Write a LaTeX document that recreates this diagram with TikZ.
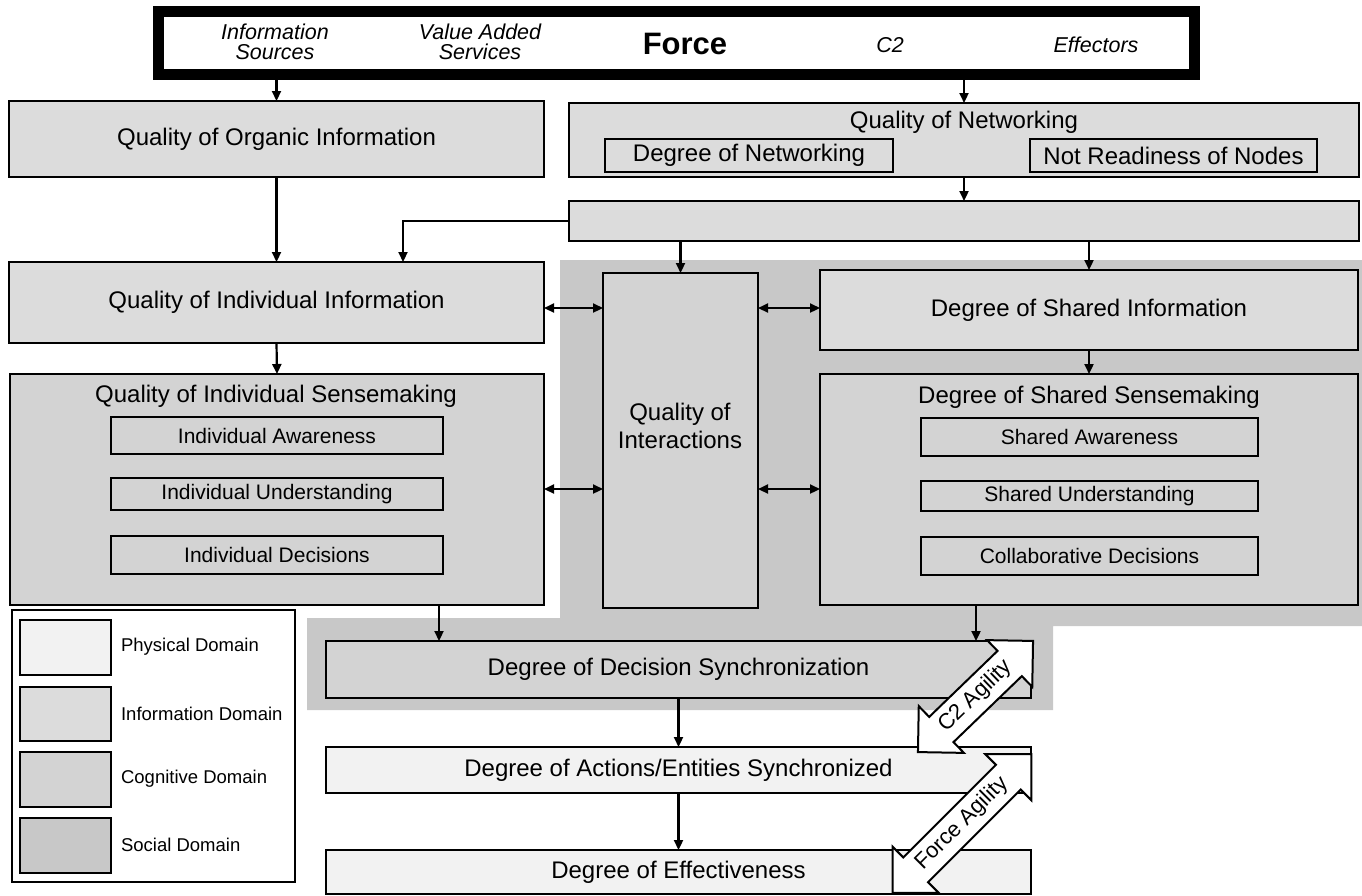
\documentclass[tikz,border=0pt]{standalone}
\usepackage{fontspec}
\setmainfont{Liberation Sans}
\usetikzlibrary{arrows.meta}
\definecolor{fisico}{HTML}{F2F2F2}
\definecolor{info}{HTML}{DCDCDC}
\definecolor{cognitivo}{HTML}{D3D3D3}
\definecolor{social}{HTML}{C8C8C8}

\begin{document}
\begin{tikzpicture}[x=1pt,y=-1pt,line width=2.2pt,>={Triangle[length=10pt,width=9pt]},
	caixa/.style={draw,inner sep=0pt,outer sep=0pt,align=center,font=\fontsize{24}{28}\selectfont},
	interna/.style={caixa,font=\fontsize{21}{24}\selectfont},
	topo/.style={align=center,inner sep=0pt,font=\fontsize{21.5}{19.5}\selectfont\itshape},
	legenda/.style={anchor=west,inner sep=0pt,font=\fontsize{18.5}{22}\selectfont},
	agil/.style={draw,fill=white,line width=2pt,line join=miter}]
	
	% Fundo e limites
	\fill[white] (0,0) rectangle (1362,895);
	\useasboundingbox (0,0) rectangle (1362,895);
	
	% Dominio social (fundo cinza)
	\fill[social] (560,260) -- (1362,260) -- (1362,626) -- (1053,626) -- (1053,710)
		-- (307,710) -- (307,618) -- (560,618) -- cycle;
	
	% Caixa da forca
	\node[draw,line width=11pt,minimum width=1036,minimum height=63,inner sep=0pt,outer sep=0pt] (FORCE) at (676.5,43) {};
	\node[topo] (IS) at (275,42) {Information\\Sources};
	\node[topo] (VAS) at (480,42) {Value Added\\Services};
	\node[inner sep=0pt,font=\fontsize{31}{34}\selectfont\bfseries] (F) at (685,44) {Force};
	\node[topo] (C2) at (890,45) {C2};
	\node[topo] (EF) at (1096,45) {Effectors};
	
	% Dominio da informacao
	\node[caixa,fill=info,minimum width=535,minimum height=76] (QOI) at (276.5,139) {Quality of Organic Information};
	\node[caixa,fill=info,minimum width=790,minimum height=74] (QON) at (964,140) {};
	\node[inner sep=0pt,font=\fontsize{24}{28}\selectfont] (QONT) at (964,122) {Quality of Networking};
	\node[caixa,fill=info,minimum width=288,minimum height=33] (DON) at (749,155.5) {Degree of Networking};
	\node[caixa,fill=info,minimum width=287,minimum height=33] (NRN) at (1173.5,155.5) {Not Readiness of Nodes};
	\node[caixa,fill=info,minimum width=790,minimum height=40] (BAR) at (964,221) {};
	\node[caixa,fill=info,minimum width=535,minimum height=81] (QII) at (276.5,302.5) {Quality of Individual Information};
	\node[caixa,fill=info,minimum width=538,minimum height=80] (DSI) at (1089,310) {Degree of Shared Information};
	
	% Dominio cognitivo
	\node[caixa,fill=cognitivo,minimum width=534,minimum height=231] (QIS) at (277,489.5) {};
	\node[inner sep=0pt,font=\fontsize{24}{28}\selectfont] (QIST) at (276,396) {Quality of Individual Sensemaking};
	\node[interna,fill=cognitivo,minimum width=332,minimum height=37] (IA) at (277,435.5) {Individual Awareness};
	\node[interna,fill=cognitivo,minimum width=332,minimum height=32] (IU) at (277,494) {Individual Understanding};
	\node[interna,fill=cognitivo,minimum width=332,minimum height=38] (ID) at (277,555) {Individual Decisions};
	\node[caixa,fill=cognitivo,minimum width=155,minimum height=335] (QOINT) at (680.5,440.5) {};
	\node[inner sep=0pt,align=center,font=\fontsize{24}{28}\selectfont] (QOINTT) at (680,426) {Quality of\\Interactions};
	\node[caixa,fill=cognitivo,minimum width=538,minimum height=231] (DSS) at (1089,489.5) {};
	\node[inner sep=0pt,font=\fontsize{24}{28}\selectfont] (DSST) at (1089,397) {Degree of Shared Sensemaking};
	\node[interna,fill=cognitivo,minimum width=337,minimum height=38] (SA) at (1089.5,437) {Shared Awareness};
	\node[interna,fill=cognitivo,minimum width=337,minimum height=30] (SU) at (1089.5,496) {Shared Understanding};
	\node[interna,fill=cognitivo,minimum width=337,minimum height=38] (CD) at (1089.5,556) {Collaborative Decisions};
	\node[caixa,fill=cognitivo,minimum width=705,minimum height=57] (DDS) at (678.5,669.5) {Degree of Decision Synchronization};
	
	% Dominio fisico
	\node[caixa,fill=fisico,minimum width=705,minimum height=46] (DAE) at (678.5,770) {Degree of Actions/Entities Synchronized};
	\node[caixa,fill=fisico,minimum width=705,minimum height=44] (DE) at (678.5,872) {Degree of Effectiveness};
	
	% Pontos auxiliares
	\coordinate (K) at (403,0);
	\coordinate (L) at (439,0);
	\coordinate (R) at (976,0);
	\coordinate (Y1) at (0,308);
	\coordinate (Y2) at (0,489);
	
	% Setas
	\draw[->] (QOI.north |- FORCE.south) -- (QOI.north);
	\draw[->] (QON.north |- FORCE.south) -- (QON.north);
	\draw[->] (QON.south) -- (BAR.north);
	\draw[->] (BAR.west) -| (K |- QII.north);
	\draw[->] (BAR.south -| QOINT.north) -- (QOINT.north);
	\draw[->] (BAR.south -| DSI.north) -- (DSI.north);
	\draw[->] (QOI.south) -- (QII.north);
	\draw[->] (QII.south) -- (QIS.north);
	\draw[->] (DSI.south) -- (DSS.north);
	\draw[->] (L |- QIS.south) -- (L |- DDS.north);
	\draw[->] (R |- DSS.south) -- (R |- DDS.north);
	\draw[->] (DDS.south) -- (DAE.north);
	\draw[->] (DAE.south) -- (DE.north);
	
	% Setas duplas das interacoes
	\draw[<->] (QII.east |- Y1) -- (QOINT.west |- Y1);
	\draw[<->] (QOINT.east |- Y1) -- (DSI.west |- Y1);
	\draw[<->] (QIS.east |- Y2) -- (QOINT.west |- Y2);
	\draw[<->] (QOINT.east |- Y2) -- (DSS.west |- Y2);
	
	% Legenda
	\node[draw,line width=2pt,minimum width=283,minimum height=272,inner sep=0pt] (LEG) at (153.5,746) {};
	\node[draw,fill=fisico,line width=2pt,minimum width=91,minimum height=55,inner sep=0pt] (S1) at (65.5,647.5) {};
	\node[draw,fill=info,line width=2pt,minimum width=91,minimum height=54,inner sep=0pt] (S2) at (65.5,714) {};
	\node[draw,fill=cognitivo,line width=2pt,minimum width=91,minimum height=55,inner sep=0pt] (S3) at (65.5,779.5) {};
	\node[draw,fill=social,line width=2pt,minimum width=91,minimum height=55,inner sep=0pt] (S4) at (65.5,845.5) {};
	\node[legenda] (T1) at (120,647) {Physical Domain};
	\node[legenda] (T2) at (120,714) {Information Domain};
	\node[legenda] (T3) at (120,779) {Cognitive Domain};
	\node[legenda] (T4) at (120,845) {Social Domain};
	
	% Setas de agilidade
	\foreach \cx/\cy/\ang/\m/\txt/\nome in {975.5/696.5/44/80/C2 Agility/AC2,962/823.5/45/98/Force Agility/AF}{
		\begin{scope}[shift={(\cx,\cy)},rotate=\ang]
			\draw[agil] (-\m,0) -- (-\m+32.5,32.5) -- (-\m+32.5,17.5) -- (\m-32.5,17.5) -- (\m-32.5,32.5)
				-- (\m,0) -- (\m-32.5,-32.5) -- (\m-32.5,-17.5) -- (-\m+32.5,-17.5) -- (-\m+32.5,-32.5) -- cycle;
		\end{scope}
		\node[rotate=\ang,inner sep=0pt,font=\fontsize{22}{24}\selectfont] (\nome) at (\cx,\cy) {\txt};
	}
	
\end{tikzpicture}
\end{document}
